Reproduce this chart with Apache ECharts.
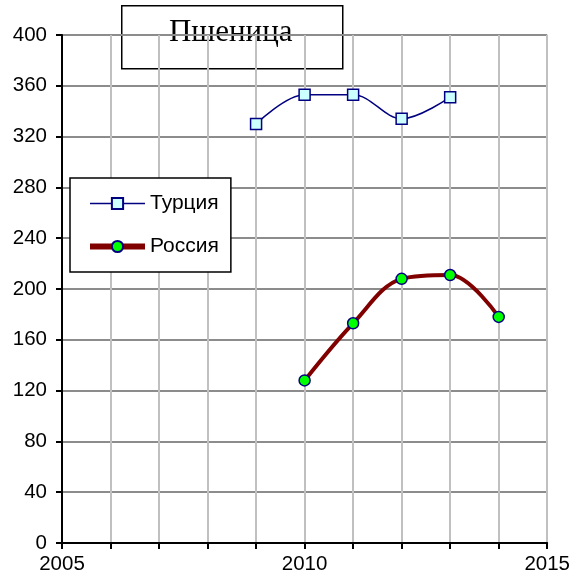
<!DOCTYPE html>
<html>
<head>
<meta charset="utf-8">
<script src="https://cdn.jsdelivr.net/npm/echarts@6/dist/echarts.min.js"></script>
<style>
  html, body { margin: 0; padding: 0; background: #fff; }
</style>
</head>
<body>
<div id="chart" style="width: 573px; height: 585px"></div>
<script>
// data
const turkeyYears = [2009, 2010, 2011, 2012, 2013]
const turkeyValues = [330, 353, 353, 334, 351]
const russiaYears = [2010, 2011, 2012, 2013, 2014]
const russiaValues = [128, 173, 208, 211, 178]
const yTicks = [0, 40, 80, 120, 160, 200, 240, 280, 320, 360, 400]
const xLabelYears = [2005, 2010, 2015]

const chart = echarts.init(document.getElementById('chart'))

const option = {
  animation: false,
  textStyle: { fontFamily: 'Liberation Sans, Arial, sans-serif' },
  grid: { left: 62, right: 25, top: 35, bottom: 42 },
  xAxis: {
    type: 'value',
    min: 2005,
    max: 2015,
    interval: 1,
    axisLine: { lineStyle: { color: '#000', width: 2 } },
    axisTick: { show: true, length: 6, lineStyle: { color: '#000', width: 2 } },
    axisLabel: {
      color: '#000',
      fontSize: 20.5,
      margin: 11,
      formatter: v => (xLabelYears.includes(v) ? String(v) : '')
    },
    splitLine: { show: true, lineStyle: { color: '#c0c0c0', width: 2 } }
  },
  yAxis: {
    type: 'value',
    min: yTicks[0],
    max: yTicks[yTicks.length - 1],
    interval: 40,
    axisLine: { show: true, lineStyle: { color: '#000', width: 2 } },
    axisTick: { show: true, length: 6, lineStyle: { color: '#000', width: 2 } },
    axisLabel: { color: '#000', fontSize: 20.5, margin: 15 },
    splitLine: { show: true, lineStyle: { color: '#8c8c8c', width: 2 } }
  },
  legend: {
    orient: 'vertical',
    left: 70,
    top: 178,
    padding: [15, 12, 15, 17],
    itemGap: 22,
    itemWidth: 55,
    itemHeight: 14,
    backgroundColor: '#fff',
    borderColor: '#000',
    borderWidth: 1.5,
    textStyle: { color: '#000', fontSize: 21 },
    data: [
      { name: 'Турция', lineStyle: { width: 1.5 } },
      { name: 'Россия', lineStyle: { width: 6 } }
    ]
  },
  series: [
    {
      name: 'Турция',
      type: 'line',
      smooth: 0.35,
      data: turkeyYears.map((y, i) => [y, turkeyValues[i]]),
      lineStyle: { color: '#000080', width: 1.5 },
      symbol: 'rect',
      symbolSize: 11,
      itemStyle: { color: '#ccffff', borderColor: '#000080', borderWidth: 1.5 },
      z: 3
    },
    {
      name: 'Россия',
      type: 'line',
      smooth: 0.35,
      data: russiaYears.map((y, i) => [y, russiaValues[i]]),
      lineStyle: { color: '#800000', width: 4 },
      symbol: 'circle',
      symbolSize: 11,
      itemStyle: { color: '#00ff00', borderColor: '#000080', borderWidth: 1.5 },
      z: 3
    }
  ],
  graphic: [
    {
      type: 'group',
      left: 121,
      top: 5,
      z: 100,
      children: [
        {
          type: 'rect',
          shape: { x: 0, y: 0, width: 221, height: 63 },
          style: { fill: '#fff', stroke: '#000', lineWidth: 1.5 }
        },
        {
          type: 'text',
          x: 109,
          y: 27,
          style: {
            text: 'Пшеница',
            font: '31px "Liberation Serif", "Times New Roman", serif',
            fill: '#000',
            align: 'center',
            verticalAlign: 'middle'
          }
        }
      ]
    }
  ]
}

chart.setOption(option)
</script>
</body>
</html>
